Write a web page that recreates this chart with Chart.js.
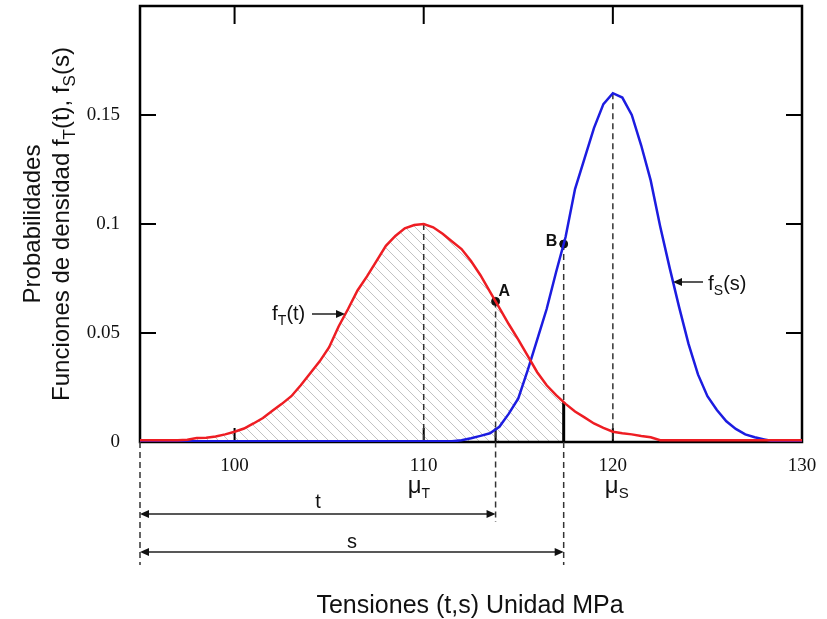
<!DOCTYPE html>
<html>
<head>
<meta charset="utf-8">
<script src="https://cdn.jsdelivr.net/npm/chart.js@4.4.1/dist/chart.umd.min.js"></script>
<style>
  html, body { margin: 0; padding: 0; background: #fff; }
  #c { display: block; }
</style>
</head>
<body>
<canvas id="c" width="827" height="619" style="width:827px;height:619px"></canvas>
<script>
// tensiones (MPa), paso 0.5
const xs = [95, 95.5, 96, 96.5, 97, 97.5, 98, 98.5, 99, 99.5,
            100, 100.5, 101, 101.5, 102, 102.5, 103, 103.5, 104, 104.5,
            105, 105.5, 106, 106.5, 107, 107.5, 108, 108.5, 109, 109.5,
            110, 110.5, 111, 111.5, 112, 112.5, 113, 113.5, 114, 114.5,
            115, 115.5, 116, 116.5, 117, 117.5, 118, 118.5, 119, 119.5,
            120, 120.5, 121, 121.5, 122, 122.5, 123, 123.5, 124, 124.5,
            125, 125.5, 126, 126.5, 127, 127.5, 128, 128.5, 129, 129.5, 130];

// f_T(t) - curva roja
const fT = [0.0008, 0.0008, 0.0008, 0.0008, 0.0008, 0.001, 0.0018, 0.002, 0.0025, 0.0035,
            0.0047, 0.0062, 0.0085, 0.011, 0.0143, 0.0175, 0.021, 0.026, 0.0315, 0.037,
            0.0435, 0.053, 0.061, 0.0695, 0.076, 0.083, 0.09, 0.0945, 0.098, 0.0995,
            0.1, 0.0985, 0.0955, 0.092, 0.0885, 0.083, 0.0765, 0.069, 0.0615, 0.054,
            0.047, 0.0395, 0.032, 0.026, 0.0215, 0.0175, 0.014, 0.0113, 0.0085, 0.0065,
            0.0047, 0.004, 0.0035, 0.0028, 0.0022, 0.0008, 0.0008, 0.0008, 0.0008, 0.0008,
            0.0008, 0.0008, 0.0008, 0.0008, 0.0008, 0.0008, 0.0008, 0.0008, 0.0008, 0.0008, 0.0008];

// f_S(s) - curva azul
const fS = [0.0003, 0.0003, 0.0003, 0.0003, 0.0003, 0.0003, 0.0003, 0.0003, 0.0003, 0.0003,
            0.0003, 0.0003, 0.0003, 0.0003, 0.0003, 0.0003, 0.0003, 0.0003, 0.0003, 0.0003,
            0.0003, 0.0003, 0.0003, 0.0003, 0.0003, 0.0003, 0.0003, 0.0003, 0.0003, 0.0003,
            0.0003, 0.0003, 0.0003, 0.0003, 0.0008, 0.0017, 0.0028, 0.004, 0.007, 0.013,
            0.02, 0.033, 0.047, 0.061, 0.078, 0.094, 0.116, 0.13, 0.144, 0.155,
            0.16, 0.158, 0.15, 0.136, 0.12, 0.099, 0.08, 0.062, 0.045, 0.031,
            0.021, 0.0147, 0.0095, 0.006, 0.0035, 0.0022, 0.0012, 0.0003, 0.0003, 0.0003, 0.0003];

const xTicks = [100, 110, 120];       // marcas interiores
const yTicks = [0.05, 0.1, 0.15];
const muT = 110, muS = 120;
const markA = 113.8, markB = 117.4;   // puntos A y B

function valueAt(arr, v) {
  for (let i = 0; i < xs.length - 1; i++) {
    if (v >= xs[i] && v <= xs[i + 1]) {
      const k = (v - xs[i]) / (xs[i + 1] - xs[i]);
      return arr[i] + k * (arr[i + 1] - arr[i]);
    }
  }
  return 0;
}

const SANS = '"Liberation Sans", Arial, sans-serif';

function rich(ctx, parts, x, y, align) {
  let w = 0;
  parts.forEach(p => { ctx.font = p[1] + 'px ' + SANS; w += ctx.measureText(p[0]).width; });
  let cx = align === 'center' ? x - w / 2 : x;
  ctx.textAlign = 'left';
  ctx.textBaseline = 'alphabetic';
  parts.forEach(p => {
    ctx.font = p[1] + 'px ' + SANS;
    ctx.fillText(p[0], cx, y + (p[2] || 0));
    cx += ctx.measureText(p[0]).width;
  });
}

function arrowHead(ctx, x, y, dir) {
  ctx.beginPath();
  ctx.moveTo(x, y);
  ctx.lineTo(x - dir * 9, y - 4);
  ctx.lineTo(x - dir * 9, y + 4);
  ctx.closePath();
  ctx.fill();
}

function dashed(ctx, x, y1, y2) {
  ctx.save();
  ctx.setLineDash([6, 4]);
  ctx.lineWidth = 1.5;
  ctx.strokeStyle = '#333';
  ctx.beginPath();
  ctx.moveTo(x, y1);
  ctx.lineTo(x, y2);
  ctx.stroke();
  ctx.restore();
}

const deco = {
  id: 'deco',
  beforeDatasetsDraw(chart) {
    const { ctx, chartArea: a, scales: { x, y } } = chart;
    const y0 = y.getPixelForValue(0);
    const redB = valueAt(fT, markB);

    // rayado bajo f_T hasta B
    ctx.save();
    ctx.beginPath();
    ctx.moveTo(x.getPixelForValue(xs[0]), y0);
    for (let i = 0; i < xs.length && xs[i] <= markB; i++) {
      ctx.lineTo(x.getPixelForValue(xs[i]), y.getPixelForValue(fT[i]));
    }
    ctx.lineTo(x.getPixelForValue(markB), y.getPixelForValue(redB));
    ctx.lineTo(x.getPixelForValue(markB), y0);
    ctx.closePath();
    ctx.clip();
    ctx.strokeStyle = '#b4b4b4';
    ctx.lineWidth = 0.8;
    const top = y.getPixelForValue(0.105), h = y0 - top;
    ctx.beginPath();
    for (let k = a.left - h; k < a.right; k += 10) {
      ctx.moveTo(k, top);
      ctx.lineTo(k + h, y0);
    }
    ctx.stroke();
    ctx.restore();

    // marco
    ctx.save();
    ctx.strokeStyle = '#000';
    ctx.lineWidth = 2.5;
    ctx.strokeRect(a.left, a.top, a.right - a.left, a.bottom - a.top);
    ctx.lineWidth = 2;
    ctx.beginPath();
    yTicks.forEach(v => {
      const p = y.getPixelForValue(v);
      ctx.moveTo(a.left, p); ctx.lineTo(a.left + 16, p);
      ctx.moveTo(a.right, p); ctx.lineTo(a.right - 16, p);
    });
    xTicks.forEach(v => {
      const p = x.getPixelForValue(v);
      ctx.moveTo(p, a.top); ctx.lineTo(p, a.top + 18);
      ctx.moveTo(p, a.bottom); ctx.lineTo(p, a.bottom - 14);
    });
    const pa = x.getPixelForValue(markA);
    ctx.moveTo(pa, a.bottom); ctx.lineTo(pa, a.bottom - 14);
    ctx.stroke();
    // linea solida en B hasta f_T
    ctx.lineWidth = 3;
    ctx.beginPath();
    ctx.moveTo(x.getPixelForValue(markB), y0);
    ctx.lineTo(x.getPixelForValue(markB), y.getPixelForValue(redB));
    ctx.stroke();
    ctx.restore();

    // lineas discontinuas
    dashed(ctx, x.getPixelForValue(muT), y.getPixelForValue(valueAt(fT, muT)), y0);
    dashed(ctx, x.getPixelForValue(muS), y.getPixelForValue(valueAt(fS, muS)), y0);
    dashed(ctx, x.getPixelForValue(markA), y.getPixelForValue(valueAt(fT, markA)), 522);
    dashed(ctx, x.getPixelForValue(markB), y.getPixelForValue(valueAt(fS, markB)), y.getPixelForValue(redB));
    dashed(ctx, x.getPixelForValue(markB), y0, 565);
    dashed(ctx, a.left, y0, 565);
  },
  afterDraw(chart) {
    const { ctx, chartArea: a, scales: { x, y } } = chart;
    ctx.save();
    ctx.fillStyle = '#111';
    ctx.strokeStyle = '#222';

    // titulo eje y
    ctx.save();
    ctx.translate(40, (a.top + a.bottom) / 2);
    ctx.rotate(-Math.PI / 2);
    rich(ctx, [['Probabilidades', 24]], 0, 0, 'center');
    ctx.restore();
    ctx.save();
    ctx.translate(69, (a.top + a.bottom) / 2);
    ctx.rotate(-Math.PI / 2);
    rich(ctx, [['Funciones de densidad f', 24], ['T', 17, 6], ['(t), f', 24], ['S', 17, 6], ['(s)', 24]], 0, 0, 'center');
    ctx.restore();

    // titulo eje x
    rich(ctx, [['Tensiones (t,s) Unidad MPa', 25]], 470, 613, 'center');

    // mu
    rich(ctx, [['\u03bc', 24], ['T', 14, 5]], x.getPixelForValue(muT) - 16, 493, 'left');
    rich(ctx, [['\u03bc', 24], ['S', 15, 5]], x.getPixelForValue(muS) - 8, 493, 'left');

    // etiquetas de curvas
    rich(ctx, [['f', 21], ['T', 14, 5], ['(t)', 20]], 272, 320, 'left');
    rich(ctx, [['f', 21], ['S', 14, 5], ['(s)', 20]], 708, 290, 'left');
    ctx.lineWidth = 1.5;
    ctx.beginPath();
    ctx.moveTo(312, 314); ctx.lineTo(338, 314);
    ctx.moveTo(703, 282); ctx.lineTo(680, 282);
    ctx.stroke();
    arrowHead(ctx, 345, 314, 1);
    arrowHead(ctx, 673, 282, -1);

    // A, B
    ctx.font = 'bold 16px ' + SANS;
    ctx.textAlign = 'left';
    ctx.fillText('A', x.getPixelForValue(markA) + 3, y.getPixelForValue(valueAt(fT, markA)) - 5);
    ctx.fillText('B', x.getPixelForValue(markB) - 18, y.getPixelForValue(valueAt(fS, markB)) + 2);

    // flechas t y s
    const l = a.left;
    const pA = x.getPixelForValue(markA), pB = x.getPixelForValue(markB);
    ctx.lineWidth = 1.5;
    ctx.beginPath();
    ctx.moveTo(l + 8, 514); ctx.lineTo(pA - 8, 514);
    ctx.moveTo(l + 8, 552); ctx.lineTo(pB - 8, 552);
    ctx.stroke();
    arrowHead(ctx, l, 514, -1); arrowHead(ctx, pA, 514, 1);
    arrowHead(ctx, l, 552, -1); arrowHead(ctx, pB, 552, 1);
    rich(ctx, [['t', 20]], 318, 508, 'center');
    rich(ctx, [['s', 20]], 352, 548, 'center');
    ctx.restore();
  }
};

new Chart(document.getElementById('c'), {
  type: 'line',
  data: {
    datasets: [
      {
        label: 'fT',
        data: xs.map((v, i) => ({ x: v, y: fT[i] })),
        borderColor: '#ee1d23',
        borderWidth: 2.5,
        pointRadius: 0,
        tension: 0,
        fill: false
      },
      {
        label: 'fS',
        data: xs.map((v, i) => ({ x: v, y: fS[i] })),
        borderColor: '#1c1ce0',
        borderWidth: 2.5,
        pointRadius: 0,
        tension: 0,
        fill: false
      },
      {
        type: 'scatter',
        label: 'AB',
        data: [{ x: markA, y: valueAt(fT, markA) }, { x: markB, y: valueAt(fS, markB) }],
        pointRadius: 4,
        backgroundColor: '#111',
        borderColor: '#111'
      }
    ]
  },
  options: {
    responsive: false,
    animation: false,
    devicePixelRatio: 1,
    layout: { padding: { top: 6, right: 25, left: 0, bottom: 0 } },
    plugins: { legend: { display: false }, tooltip: { enabled: false } },
    scales: {
      x: {
        type: 'linear', min: 95, max: 130,
        afterFit: s => { s.height = 177; s.paddingLeft = 0; s.paddingRight = 0; },
        grid: { display: false }, border: { display: false },
        ticks: {
          stepSize: 10, autoSkip: false, maxRotation: 0, padding: 5, color: '#111',
          font: { family: '"Liberation Serif", "Times New Roman", serif', size: 19 },
          callback: v => (v % 10 === 0 ? String(v) : null)
        }
      },
      y: {
        min: 0, max: 0.2,
        afterFit: s => { s.width = 140; s.paddingTop = 0; s.paddingBottom = 0; },
        grid: { display: false }, border: { display: false },
        ticks: {
          stepSize: 0.05, padding: 12, color: '#111',
          font: { family: '"Liberation Serif", "Times New Roman", serif', size: 19 },
          callback: v => (v > 0.19 ? null : (v === 0 ? '0' : String(+v.toFixed(2))))
        }
      }
    }
  },
  plugins: [deco]
});
</script>
</body>
</html>
